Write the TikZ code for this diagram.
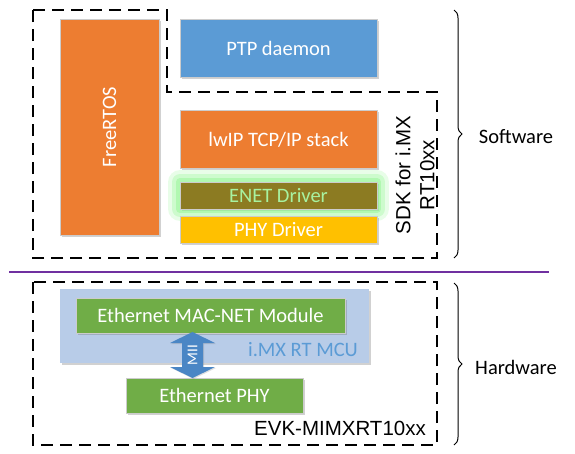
\documentclass[tikz,border=0pt]{standalone}
\usepackage{fontspec}
\setmainfont{Carlito}
\newfontfamily\arialfont{Liberation Sans}
\usetikzlibrary{calc,positioning,shadows,decorations.pathreplacing}
\definecolor{rtosorange}{HTML}{ED7D31}
\definecolor{ptpblue}{HTML}{5B9BD5}
\definecolor{miiblue}{HTML}{4A86C5}
\definecolor{enetolive}{HTML}{8C7B22}
\definecolor{enettext}{HTML}{A8F2A0}
\definecolor{enetglow}{HTML}{8EF58E}
\definecolor{phygold}{HTML}{FFC000}
\definecolor{hwgreen}{HTML}{70AD47}
\definecolor{mculight}{HTML}{B8CCE8}
\definecolor{divider}{HTML}{7030A0}
\tikzset{
  block/.style={draw=black!20,line width=0.5pt,text=white,inner sep=0pt,align=center,
                font=\fontsize{20.5}{24}\selectfont,
                drop shadow={shadow xshift=1.5pt,shadow yshift=-1.5pt,opacity=0.3,fill=black!60}},
  glowing/.style={preaction={draw=enetglow,line width=24pt,opacity=0.2,line join=round},
                  preaction={draw=enetglow,line width=16pt,opacity=0.3,line join=round},
                  preaction={draw=enetglow,line width=8pt,opacity=0.45,line join=round}},
  dashbox/.style={draw=black,line width=2.8pt,dash pattern=on 12pt off 7pt},
  sidebrace/.style={decorate,decoration={brace,amplitude=8pt},line width=1pt},
  sidelabel/.style={font=\fontsize{20.5}{24}\selectfont},
  boardtext/.style={font=\arialfont\fontsize{20.5}{24}\selectfont,align=center}
}

\begin{document}
\begin{tikzpicture}[x=1pt,y=-1pt]
  \useasboundingbox (0,0) rectangle (575,453);
  % software side
  \draw[dashbox] (33,10) -- (167,10) -- (167,92) -- (437,92) -- (437,258) -- (33,258) -- cycle;
  \node[block,fill=rtosorange,minimum width=216pt,minimum height=99pt,rotate=90] (freertos)
    at (109.5,127) {FreeRTOS};
  \node[block,fill=ptpblue,minimum width=197pt,minimum height=58pt] (ptp)
    at (278.5,48) {PTP daemon};
  \node[block,fill=rtosorange,minimum width=197pt,minimum height=58pt,below=33pt of ptp] (lwip)
    {lwIP TCP/IP stack};
  \node[block,glowing,fill=enetolive,text=enettext,minimum width=197pt,minimum height=27pt,
        below=13pt of lwip] (enet) {ENET Driver};
  \node[block,fill=phygold,minimum width=197pt,minimum height=27pt,below=7pt of enet] (phydrv)
    {PHY Driver};
  \node[boardtext,rotate=90] (sdk) at (415,175) {SDK for i.MX\\RT10xx};

  \draw[sidebrace] (454,10) -- (454,258);
  \node[sidelabel] (software) at (516,137) {Software};

  \draw[divider,line width=2.5pt] (9,272) -- (549,272);

  % hardware side
  \draw[dashbox] (33,282) rectangle (437,445);
  \node[block,draw=none,fill=mculight,minimum width=309pt,minimum height=74pt] (mcu)
    at (214.5,326) {};
  \node[text=ptpblue,font=\fontsize{20.5}{24}\selectfont] (mculabel) at (303,350) {i.MX RT MCU};
  \node[block,fill=hwgreen,minimum width=269pt,minimum height=35pt] (macnet)
    at (210.5,315.5) {Ethernet MAC-NET Module};
  \node[block,fill=hwgreen,minimum width=177pt,minimum height=35pt] (ethphy)
    at (214.5,395.5) {Ethernet PHY};
  % MII block arrow between MAC and PHY
  \coordinate (miitop) at (192.5,332);
  \coordinate (miibot) at (192.5,378);
  \fill[miiblue,drop shadow={shadow xshift=1pt,shadow yshift=-1pt,opacity=0.25}]
    (miitop) -- ++(22.5,11) -- ++(-12,0) |- ($(miibot)+(10.5,-11)$) -- ++(12,0) -- (miibot)
    -- ++(-22.5,-11) -- ++(12,0) |- ($(miitop)+(-10.5,11)$) -- ++(-12,0) -- cycle;
  \node[rotate=90,text=white,inner sep=0pt,font=\fontsize{15}{15}\selectfont] (mii)
    at ($(miitop)!0.5!(miibot)$) {MII};
  \node[boardtext] (evk) at (340,428) {EVK-MIMXRT10xx};

  \draw[sidebrace] (454,283) -- (454,445);
  \node[sidelabel] (hardware) at (516,367) {Hardware};
\end{tikzpicture}
\end{document}
